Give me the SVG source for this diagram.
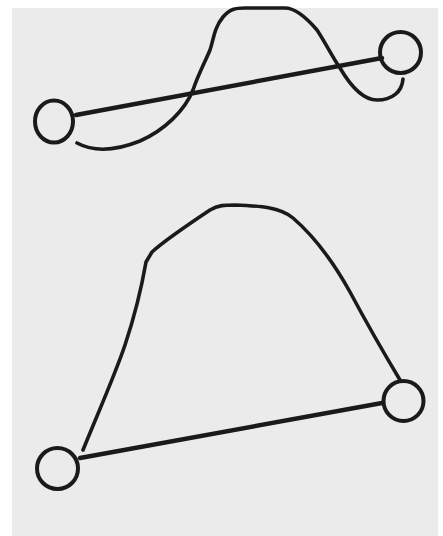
<svg xmlns="http://www.w3.org/2000/svg" width="443" height="536" viewBox="0 0 443 536">
<style>
.n{fill:none;stroke:#1a1a1a;stroke-width:4}
.c{fill:none;stroke:#1a1a1a;stroke-width:3.6;stroke-linecap:round;stroke-linejoin:round}
.l{fill:none;stroke:#1a1a1a;stroke-width:4.4;stroke-linecap:round}
</style>
<rect width="443" height="536" fill="#ffffff"/>
<rect x="12" y="8" width="426" height="528" fill="#ebebeb"/>
<g id="connectors">
<path class="l" d="M76,115 L382,58"/>
<path class="c" d="M77,143 C90,150 110,153 140,141 C165,130 185,110 193,90 C198,75 205,62 210,50 C214,38 214,28 223,17 C230,9 235,8 245,8 L285,8 C295,8 305,16 317,30 C325,42 333,58 340,68 C350,85 362,100 377,100 C392,100 402,92 403,79"/>
<path class="l" d="M80,458 L382,403"/>
<path class="c" d="M83,450 C95,420 115,375 125,345 C135,315 142,285 146,262 L152,252 C165,240 195,220 210,210 C218,205 225,205 235,205 C260,206 280,207 293,218 C315,237 335,265 350,292 C365,320 385,355 400,380"/>
</g>
<g id="top-left"><ellipse class="n" cx="54" cy="121.5" rx="19" ry="21"/></g>
<g id="top-right"><circle class="n" cx="400.5" cy="52.5" r="20.5"/></g>
<g id="bottom-left"><circle class="n" cx="57.5" cy="468.5" r="20.5"/></g>
<g id="bottom-right"><circle class="n" cx="403.5" cy="401" r="20"/></g>
</svg>
